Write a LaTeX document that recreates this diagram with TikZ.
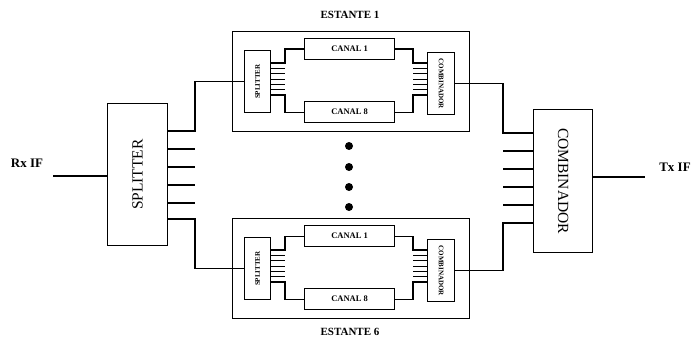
\documentclass[tikz,border=0pt]{standalone}
\usepackage{fontspec}
\setmainfont{Liberation Serif}
\usepackage{graphicx}
\begin{document}
\begin{tikzpicture}[x=1pt,y=-1pt,
  box/.style={draw, line width=1.2pt, inner sep=0pt, fill=white, anchor=north west},
  wire/.style={line width=1.2pt},
  thin wire/.style={line width=0.9pt},
  canal/.style={box, minimum width=90pt, minimum height=21pt, font=\bfseries\fontsize{8.5}{9}\selectfont},
  tinyrot/.style={font=\bfseries\fontsize{7}{7.5}\selectfont},
  dot/.style={circle, fill=black, inner sep=0pt, minimum size=8pt},
  title/.style={font=\bfseries\fontsize{11}{12}\selectfont}
]
\useasboundingbox (0,0) rectangle (693,353);

% racks
\foreach \T/\n in {31/1,218/6} {
  \node[box, minimum width=237pt, minimum height=100pt] (r\n) at (232,\T) {};
  \node[box, minimum width=26pt, minimum height=62pt, tinyrot] (s\n) at (244,{\T+19}) {\rotatebox{90}{SPLITTER}};
  \node[canal] (ca\n) at (304,{\T+7}) {CANAL 1};
  \node[canal] (cb\n) at (304,{\T+70}) {CANAL 8};
  \node[box, minimum width=27pt, minimum height=62pt, tinyrot] (k\n) at (427,{\T+21}) {\rotatebox{-90}{COMBINADOR}};
  % splitter side bundle
  \draw[wire] (s\n.east |- 0,{\T+32}) -- (285,{\T+32}) |- (ca\n.west);
  \draw[wire] (s\n.east |- 0,{\T+64}) -- (285,{\T+64}) |- (cb\n.west);
  \foreach \k in {1,...,5}
    \draw[thin wire] (s\n.east |- 0,{\T+32+\k*16/3}) -- (285,{\T+32+\k*16/3});
  % combiner side bundle
  \draw[wire] (k\n.west |- 0,{\T+32}) -- (413,{\T+32}) |- (ca\n.east);
  \draw[wire] (k\n.west |- 0,{\T+64}) -- (413,{\T+64}) |- (cb\n.east);
  \foreach \k in {1,...,5}
    \draw[thin wire] (k\n.west |- 0,{\T+32+\k*16/3}) -- (413,{\T+32+\k*16/3});
}

\node[title] (e1) at (350,15) {ESTANTE 1};
\node[title] (e6) at (350,332) {ESTANTE 6};

% main splitter and combiner
\node[box, minimum width=60pt, minimum height=142pt, font=\fontsize{15.5}{16}\selectfont] (ms) at (107,103) {\rotatebox{90}{SPLITTER}};
\node[box, minimum width=59pt, minimum height=143pt, font=\fontsize{15.5}{16}\selectfont] (mc) at (533,109) {\rotatebox{-90}{COMBINADOR}};

\node[font=\bfseries\fontsize{13}{14}\selectfont] (rx) at (27,163) {Rx IF};
\node[font=\bfseries\fontsize{13}{14}\selectfont] (tx) at (675,167) {Tx IF};
\coordinate (rxin) at (53,176);
\coordinate (txout) at (645,177);
\draw[wire] (rxin) -- (ms.west |- rxin);
\draw[wire] (mc.east |- txout) -- (txout);

% splitter outputs
\draw[wire] (ms.east |- 0,131) -- (195,131) |- (s1.west);
\draw[wire] (ms.east |- 0,219) -- (195,219) |- (s6.west);
\foreach \y in {149,167,185,203}
  \draw[wire] (ms.east |- 0,\y) -- (195,\y);

% combiner inputs
\draw[wire] (mc.west |- 0,133) -- (503,133) |- (k1.east);
\draw[wire] (mc.west |- 0,223) -- (503,223) |- (k6.east);
\foreach \y in {151,169,187,205}
  \draw[wire] (mc.west |- 0,\y) -- (503,\y);

% dots
\node[dot] (d1) at (349,146) {};
\node[dot] (d2) at (349,167) {};
\node[dot] (d3) at (349,187) {};
\node[dot] (d4) at (349,207) {};
\end{tikzpicture}
\end{document}
